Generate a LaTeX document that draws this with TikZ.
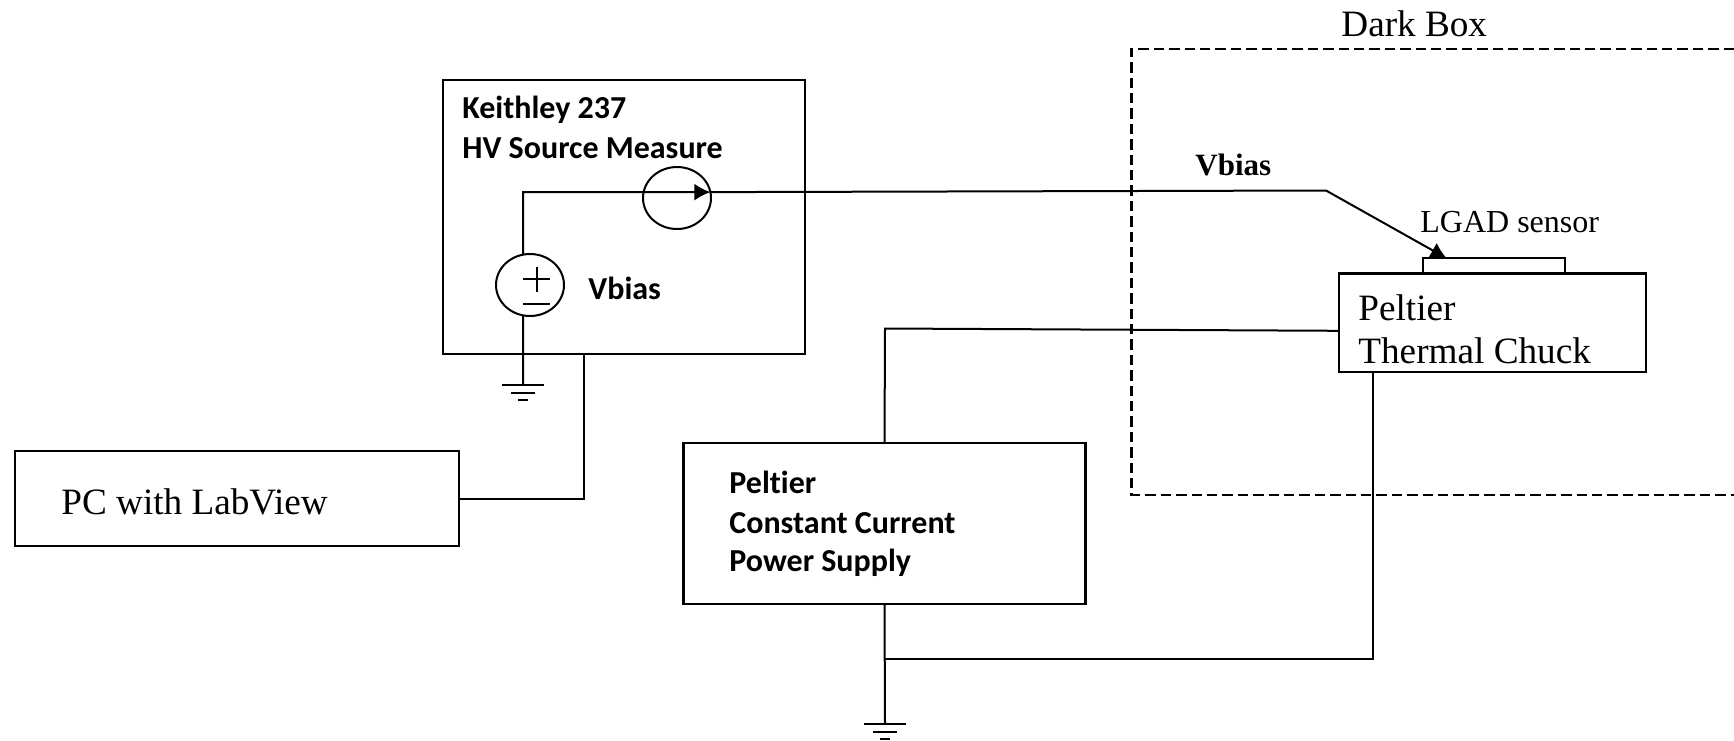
\documentclass[tikz,border=0pt]{standalone}
\usepackage{fontspec}
\setmainfont{Liberation Serif}
\newfontfamily\calibri[Ligatures=CommonOff]{Carlito}
\usetikzlibrary{arrows.meta}
\tikzset{
  box/.style={draw,line width=1.1pt,inner sep=0pt,outer sep=0pt},
  srcring/.style={draw,ellipse,line width=1pt,minimum width=34pt,minimum height=31pt,inner sep=0pt,outer sep=0pt},
  wire/.style={line width=1pt},
  tip/.style={-{Latex[length=8pt,width=8.5pt]}},
  bigserif/.style={anchor=base west,inner sep=0pt,font=\fontsize{18.6}{20}\selectfont},
  boldsans/.style={anchor=base west,inner sep=0pt,font=\calibri\bfseries\fontsize{16}{18}\selectfont},
  boldserif/.style={anchor=base west,inner sep=0pt,font=\bfseries\fontsize{15.5}{17}\selectfont},
  ground/.pic={
    \draw[wire] (-21,0) -- (21,0);
    \draw[wire] (-12,8) -- (12,8);
    \draw[wire] (-5,15) -- (5,15);
  }
}
\usetikzlibrary{shapes.geometric}
\begin{document}
\begin{tikzpicture}[x=0.5pt,y=-0.5pt]
\useasboundingbox (0,0) rectangle (1734,740);
% dark box
\draw[line width=1.15pt,dash pattern=on 5.2pt off 2.5pt] (1734,48.7) -- (1131.5,48.7) -- (1131.5,495) -- (1734,495);
\node[bigserif] (darklabel) at (1341,36) {Dark Box};
% instruments
\node[box,minimum width=181pt,minimum height=137pt] (keithley) at (624,217) {};
\node[box,minimum width=222pt,minimum height=47.5pt] (pc) at (237,498.5) {};
\node[box,minimum width=201pt,minimum height=80.5pt] (psu) at (884.5,523.5) {};
\node[box,minimum width=153.6pt,minimum height=49.25pt] (chuck) at (1492.6,322.75) {};
\node[box,minimum width=71pt,minimum height=7.5pt] (sensor) at (1494,265.75) {};
\node[srcring] (isrc) at (677,198) {};
\node[srcring] (vsrc) at (530,285) {};
% labels
\node[boldsans] (keithleya) at (462,118) {Keithley 237};
\node[boldsans] (keithleyb) at (462,158) {HV Source Measure};
\node[boldsans] (vbiasin) at (588,299.5) {Vbias};
\node[boldserif] (vbiasout) at (1195,175) {Vbias};
\node[bigserif] (pclabel) at (61,514) {PC with LabView};
\node[boldsans] (psua) at (729,493.5) {Peltier};
\node[boldsans] (psub) at (729,533.5) {Constant Current};
\node[boldsans] (psuc) at (729,571.5) {Power Supply};
\node[anchor=base west,inner sep=0pt,font=\fontsize{16}{18}\selectfont] (sensorlabel) at (1420,232) {LGAD sensor};
\node[bigserif] (chucka) at (1358,320) {Peltier};
\node[bigserif] (chuckb) at (1358,363) {Thermal Chuck};
% plus and minus
\draw[wire] (523,279) -- (550,279);
\draw[wire] (536.5,267) -- (536.5,292);
\draw[wire] (523,304) -- (550,304);
% wires
\coordinate (vtop) at (523,192);
\coordinate (vbend) at (1326,190.5);
\coordinate (gnda) at (523,385);
\coordinate (gndb) at (885,724);
\coordinate (ptop) at (885,328.5);
\coordinate (junc) at (885,659);
\coordinate (kdrop) at (584,354);
\coordinate (cdrop) at (1372.5,372);
\draw[wire,tip] (vsrc.103) -- (vtop) -- (isrc.10);
\draw[wire,tip] (isrc.10) -- (vbend) -- (sensor.171.9);
\draw[wire] (vsrc.257) -- (gnda);
\draw[wire] (kdrop) |- (pc.east);
\draw[wire] (psu.north) -- (ptop) -- (chuck.183);
\draw[wire] (psu.south) -- (gndb);
\draw[wire] (junc) -| (cdrop);
\pic at (gnda) {ground};
\pic at (gndb) {ground};
\end{tikzpicture}
\end{document}
